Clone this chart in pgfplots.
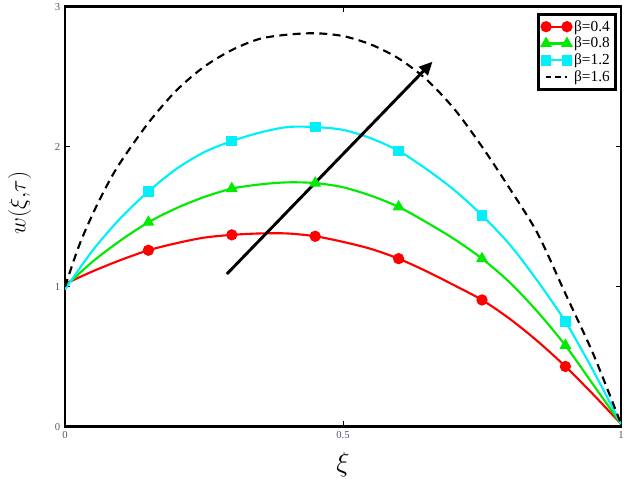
\documentclass[border=0pt]{standalone}
\usepackage{fontspec}
\setmainfont{Liberation Serif}
\usepackage{pgfplots}
\pgfplotsset{compat=1.18}
\usetikzlibrary{arrows.meta}
\definecolor{tickgray}{RGB}{85,85,105}
\definecolor{myred}{RGB}{255,0,0}
\definecolor{mygreen}{RGB}{0,235,0}
\definecolor{mycyan}{RGB}{0,240,250}

\begin{document}
\begin{tikzpicture}
\begin{axis}[
    scale only axis,
    width=417pt, height=315pt,
    xmin=0, xmax=1, ymin=0, ymax=3,
    xtick={0,0.5,1}, ytick={0,1,2,3},
    xticklabels={0,0.5,1},
    axis line style={line width=2.2pt},
    tick style={black, line width=0.6pt},
    major tick length=4pt,
    tick align=inside,
    ticklabel style={font=\fontsize{8}{9}\selectfont, text=tickgray},
    /pgf/number format/assume math mode=true,
    xlabel={$\xi$},
    ylabel={$w(\xi{,}\tau)$},
    xlabel style={font=\fontsize{20}{22}\selectfont, at={(axis description cs:0.5,-0.091)}, anchor=center},
    ylabel style={font=\fontsize{17}{20}\selectfont, at={(axis description cs:-0.0815,0.533)}, anchor=center},
    legend style={at={(0.993,0.985)}, anchor=north east, draw=black, line width=2pt,
        font=\fontsize{11.5}{12}\selectfont, cells={anchor=west}, inner sep=2.5pt, row sep=-1pt},
    legend image code/.code={\draw[#1] plot coordinates {(0cm,0cm) (0.55cm,0cm)};},
]
% markers at xi = 0.15, 0.30, ..., 0.90
\addplot[myred, line width=1.6pt, smooth, mark=*, mark size=3.4pt, mark indices={4,7,10,13,16,19}, forget plot] coordinates {
(0,1.02) (0.05,1.11) (0.1,1.19) (0.15,1.26) (0.2,1.31) (0.25,1.35) (0.3,1.37)
(0.35,1.38) (0.4,1.38) (0.45,1.36) (0.5,1.32) (0.55,1.27) (0.6,1.20) (0.65,1.11)
(0.7,1.01) (0.75,0.905) (0.8,0.77) (0.85,0.61) (0.9,0.43) (0.95,0.23) (1,0.02)};
\addplot[mygreen, line width=1.6pt, smooth, mark=triangle*, mark size=3.6pt, mark indices={4,7,10,13,16,19}, forget plot] coordinates {
(0,1.0) (0.05,1.18) (0.1,1.33) (0.15,1.46) (0.2,1.56) (0.25,1.64) (0.3,1.70)
(0.35,1.73) (0.4,1.745) (0.45,1.74) (0.5,1.71) (0.55,1.65) (0.6,1.57) (0.65,1.46)
(0.7,1.34) (0.75,1.20) (0.8,1.03) (0.85,0.82) (0.9,0.58) (0.95,0.30) (1,0.02)};
\addplot[mycyan, line width=1.6pt, smooth, mark=square*, mark size=3.2pt, mark indices={4,7,10,13,16,19}, forget plot] coordinates {
(0,0.98) (0.05,1.26) (0.1,1.49) (0.15,1.68) (0.2,1.84) (0.25,1.96) (0.3,2.04)
(0.35,2.10) (0.4,2.14) (0.45,2.14) (0.5,2.12) (0.55,2.06) (0.6,1.97) (0.65,1.84)
(0.7,1.69) (0.75,1.51) (0.8,1.30) (0.85,1.04) (0.9,0.75) (0.95,0.40) (1,0.02)};
\addplot[black, line width=1.6pt, smooth, dash pattern=on 6pt off 4pt, forget plot] coordinates {
(0,1.0) (0.025,1.29) (0.05,1.52) (0.075,1.72) (0.1,1.89) (0.15,2.17) (0.2,2.40) (0.25,2.57)
(0.3,2.69) (0.35,2.77) (0.4,2.80) (0.45,2.81) (0.5,2.79) (0.55,2.73) (0.6,2.63)
(0.65,2.48) (0.7,2.27) (0.75,2.0) (0.8,1.70) (0.85,1.38) (0.9,0.95) (0.95,0.52) (1,0.02)};

\addlegendimage{myred, line width=1.6pt, mark=*, mark size=3.4pt}
\addlegendentry{β=0.4}
\addlegendimage{mygreen, line width=1.6pt, mark=triangle*, mark size=3.6pt}
\addlegendentry{β=0.8}
\addlegendimage{mycyan, line width=1.6pt, mark=square*, mark size=3.2pt}
\addlegendentry{β=1.2}
\addlegendimage{black, line width=1.6pt, dash pattern=on 4pt off 3pt}
\addlegendentry{β=1.6}

\draw[line width=2.2pt, -{Triangle[length=10pt,width=9pt]}] (axis cs:0.291,1.09) -- (axis cs:0.661,2.607);

\coordinate (sw) at (rel axis cs:0,0);
\coordinate (ne) at (rel axis cs:1,1);
\end{axis}
\pgfresetboundingbox
\path[use as bounding box] ([shift={(-48.75pt,-43pt)}]sw) rectangle ([shift={(6pt,5pt)}]ne);
\end{tikzpicture}
\end{document}
